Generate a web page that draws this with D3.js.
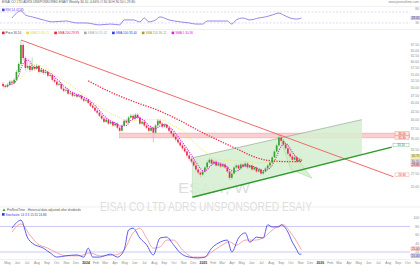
<!DOCTYPE html>
<html>
<head>
<meta charset="utf-8">
<script src="https://cdn.jsdelivr.net/npm/d3@7"></script>
<style>
  body { margin: 0; background: #fff; }
  svg { display: block; font-family: "Liberation Sans", Arial, sans-serif; }
</style>
</head>
<body>
<svg id="chart" width="420" height="265"></svg>
<script>
// weekly bars, first bar week and right end of the time axis
const firstWeek = '2023-04-17'
const lastDay = '2026-10-08'
const monthNames = ['Jan', 'Feb', 'Mar', 'Apr', 'May', 'Jun', 'Jul', 'Aug', 'Sep', 'Oct', 'Nov', 'Dec']

// [open, high, low, close]
const candles = [
  [51.5, 52.2, 50.3, 50.8], [50.8, 51.4, 49.9, 50.5], [50.5, 51.8, 50.1, 51.2], [51.2, 52.9, 50.9, 52.3],
  [52.3, 53.0, 51.4, 51.9], [51.9, 53.6, 51.5, 53.0], [53.0, 56.8, 52.6, 56.0], [56.0, 60.1, 55.5, 59.2],
  [59.2, 70.0, 58.6, 67.6], [67.6, 68.5, 60.5, 61.7], [61.7, 62.4, 56.5, 57.6], [57.6, 60.2, 56.9, 58.4],
  [58.4, 59.8, 55.9, 56.8], [56.8, 62.0, 56.2, 58.0], [58.0, 58.9, 56.5, 57.2], [57.2, 59.3, 56.7, 58.4],
  [58.4, 58.9, 55.3, 56.0], [56.0, 57.6, 55.4, 56.8], [56.8, 57.3, 54.9, 55.6], [55.6, 56.9, 55.0, 56.0],
  [56.0, 56.5, 53.8, 54.5], [54.5, 55.6, 53.9, 54.8], [54.8, 55.2, 52.4, 53.0], [53.0, 53.6, 51.7, 52.3],
  [52.3, 52.8, 50.6, 51.2], [51.2, 52.3, 50.7, 51.5], [51.5, 51.9, 49.3, 49.8], [49.8, 50.3, 48.5, 49.1],
  [49.1, 50.2, 48.6, 49.4], [49.4, 49.8, 47.6, 48.1], [48.1, 49.0, 47.7, 48.4], [48.4, 48.8, 46.9, 47.4],
  [47.4, 48.3, 46.9, 47.7], [47.7, 48.0, 46.6, 47.1], [47.1, 48.0, 46.7, 47.4], [47.4, 47.8, 45.9, 46.4],
  [46.4, 46.9, 45.3, 45.8], [45.8, 46.7, 45.4, 46.1], [46.1, 46.4, 44.7, 45.1], [45.1, 45.5, 43.8, 44.2],
  [44.2, 44.6, 43.1, 43.6], [43.6, 44.0, 42.3, 42.7], [42.7, 43.2, 41.7, 42.1], [42.1, 42.5, 40.8, 41.2],
  [41.2, 41.7, 40.0, 40.4], [40.4, 40.9, 39.1, 39.5], [39.5, 40.6, 39.2, 40.1], [40.1, 40.4, 38.6, 39.0],
  [39.0, 39.9, 38.7, 39.5], [39.5, 39.8, 38.1, 38.5], [38.5, 39.4, 38.2, 39.0], [39.0, 39.3, 37.5, 37.9],
  [37.9, 38.2, 36.7, 37.1], [37.1, 38.8, 36.9, 38.5], [38.5, 40.2, 38.2, 39.8], [39.8, 40.3, 39.0, 39.3],
  [39.3, 41.1, 39.0, 40.7], [40.7, 41.8, 40.4, 41.2], [41.2, 41.6, 40.0, 40.4], [40.4, 42.0, 40.1, 41.5],
  [41.5, 41.9, 40.3, 40.7], [40.7, 41.0, 38.7, 39.0], [39.0, 39.9, 38.7, 39.5], [39.5, 39.8, 38.1, 38.5],
  [38.5, 38.9, 37.5, 37.9], [37.9, 38.3, 36.7, 37.1], [37.1, 38.3, 36.8, 37.9], [37.9, 38.2, 34.2, 36.6],
  [36.6, 38.9, 36.3, 38.5], [38.5, 40.3, 38.2, 39.8], [39.8, 40.2, 38.6, 39.0], [39.0, 39.4, 37.8, 38.2],
  [38.2, 39.1, 37.9, 38.7], [38.7, 39.0, 37.5, 37.9], [37.9, 38.3, 36.7, 37.1], [37.1, 37.5, 36.0, 36.4],
  [36.4, 36.9, 35.2, 35.6], [35.6, 36.0, 34.5, 34.9], [34.9, 35.3, 33.8, 34.2], [34.2, 34.6, 33.1, 33.5],
  [33.5, 33.9, 32.4, 32.8], [32.8, 33.4, 31.8, 32.1], [32.1, 32.5, 30.8, 31.2], [31.2, 31.6, 30.1, 30.5],
  [30.5, 31.0, 29.5, 29.9], [29.9, 30.3, 28.8, 29.1], [29.1, 29.5, 27.9, 28.3], [28.3, 28.7, 27.3, 27.7],
  [27.7, 28.0, 26.8, 27.3], [27.3, 28.2, 27.0, 27.9], [27.9, 29.0, 27.6, 28.7], [28.7, 30.1, 28.4, 29.7],
  [29.7, 30.8, 29.4, 30.3], [30.3, 30.6, 29.2, 29.5], [29.5, 30.3, 29.2, 29.9], [29.9, 30.2, 28.8, 29.1],
  [29.1, 29.9, 28.9, 29.5], [29.5, 29.8, 28.6, 28.9], [28.9, 29.7, 28.7, 29.3], [29.3, 29.6, 28.4, 28.7],
  [28.7, 29.0, 27.6, 27.9], [27.9, 28.2, 26.3, 26.7], [26.7, 27.8, 26.4, 27.5], [27.5, 29.0, 27.3, 28.7],
  [28.7, 29.5, 28.4, 29.1], [29.1, 29.4, 28.2, 28.5], [28.5, 29.7, 28.3, 29.3], [29.3, 29.6, 28.6, 28.9],
  [28.9, 29.9, 28.7, 29.5], [29.5, 29.8, 28.4, 28.7], [28.7, 29.4, 28.5, 29.1], [29.1, 29.3, 28.0, 28.3],
  [28.3, 29.0, 28.1, 28.7], [28.7, 28.9, 27.6, 27.9], [27.9, 28.6, 27.7, 28.3], [28.3, 28.5, 27.2, 27.5],
  [27.5, 28.2, 27.3, 27.9], [27.9, 28.8, 27.7, 28.5], [28.5, 29.4, 28.3, 29.1], [29.1, 30.0, 28.9, 29.7],
  [29.7, 31.2, 29.5, 30.8], [30.8, 32.5, 30.6, 32.1], [32.1, 33.9, 31.9, 33.5], [33.5, 36.0, 33.3, 35.4],
  [35.4, 36.3, 34.3, 34.6], [34.6, 35.0, 33.4, 33.7], [33.7, 34.1, 32.5, 32.8], [32.8, 33.2, 31.3, 31.6],
  [31.6, 32.0, 30.7, 31.0], [31.0, 31.4, 30.0, 30.3], [30.3, 31.2, 30.1, 30.8], [30.8, 31.1, 29.6, 29.9],
  [29.9, 30.6, 29.7, 30.3], [30.3, 30.5, 29.8, 30.1]
]

// moving averages: [week, price]
const smaLong = [[38, 52.6], [48, 48.6], [61, 44.8], [68, 43.1], [79, 39.8], [88, 36.9], [96, 34.7],
  [105, 32.5], [112, 30.9], [119, 30.1], [127, 29.9], [133, 29.9]]
const smaMid = [[0, 50.0], [4, 51.5], [8, 53.7], [11, 56.8], [13, 58.8], [17, 58.4], [21, 56.4], [25, 53.7],
  [30, 51.2], [34, 48.8], [40, 45.4], [45, 43.0], [50, 41.3], [56, 39.8], [63, 40.1], [70, 40.1], [76, 38.4],
  [81, 36.7], [86, 33.7], [91, 31.7], [96, 30.3], [105, 30.1], [114, 29.7], [121, 29.7], [128, 30.3], [133, 30.7]]
const smaShortLength = 5

// drawn objects: [week, price]
const downTrend = [[8, 70.0], [174, 26.9]]
const upTrend = [[84.4, 23.3], [173.3, 33.1]]
const channelTop = [[84.4, 30.7], [160, 40.1]]
const channelBottomRight = [160, 31.4]
const resistanceZone = [52, 36.5, 35.3]
const wedge = [[122.7, 36.3], [137.8, 26.6], [128.4, 28.3]]

// upper indicator and stochastic: [week, value]
const rsi = [[4, 48], [8, 74], [10, 59], [13, 52], [18, 41], [22, 34], [28, 37], [33, 30], [37, 30], [43, 23],
  [48, 26], [52, 23], [54, 41], [58, 41], [61, 34], [63, 48], [65, 34], [68, 41], [70, 52], [74, 41], [79, 34],
  [83, 30], [86, 26], [89, 26], [91, 37], [98, 37], [100, 37], [102, 26], [104, 41], [107, 48], [110, 41],
  [114, 48], [117, 52], [120, 59], [123, 66], [125, 59], [128, 48], [131, 44], [133, 48]]
const stochK = [[4, 76], [8, 95], [11, 53], [13, 41], [18, 29], [21, 18], [24, 8], [28, 11], [33, 13], [36, 8],
  [38, 29], [40, 8], [43, 8], [48, 15], [51, 8], [54, 25], [56, 72], [58, 76], [61, 53], [64, 37], [67, 13],
  [70, 53], [73, 55], [76, 37], [79, 18], [83, 8], [87, 6], [90, 8], [93, 29], [96, 41], [100, 48], [102, 20],
  [105, 53], [108, 65], [110, 43], [113, 55], [116, 53], [118, 84], [120, 79], [123, 79], [124, 84], [127, 67],
  [129, 43], [131, 25], [132, 15], [133, 15]]
const stochD = [[4, 67], [8, 86], [12, 60], [15, 41], [20, 29], [24, 18], [28, 11], [34, 11], [39, 18], [43, 11],
  [50, 13], [54, 25], [58, 65], [61, 76], [64, 53], [67, 29], [70, 32], [73, 48], [76, 48], [80, 25], [85, 8],
  [90, 8], [93, 20], [97, 34], [101, 44], [104, 36], [108, 48], [112, 48], [116, 53], [119, 67], [122, 79],
  [125, 84], [128, 67], [131, 44], [133, 25]]

const priceTicks = [25, 27.5, 30, 32.5, 35, 37.5, 40, 42.5, 45, 47.5, 50, 52.5, 55, 57.5, 60, 62.5, 65, 67.5]
const rsiTicks = [80, 30]
const stochTicks = [100, 80, 60, 40, 20]

// texts
const legendItems = ['Price 30.10', 'SMA 20 30.71', 'SMA 200 29.93', 'SMA 50 31.02', 'SMA 100 33.40', 'SMA 150 36.12', 'SMA 5 30.36']
const rsiLabel = 'RSI 14  47.95'
const stochLabel = 'Stochastic 14 3 3  15.31  24.86'
const sourceNote = 'ProRealTime - Historical data adjusted after dividends'
const title = 'EISAI CO LTD ADRS UNSPONSORED ESAIY Weekly  30.10  -0.66%  O 30.30  H 30.50  L 29.80'

const svg = d3.select('#chart')
const plotR = 410

const parse = d3.utcParse('%Y-%m-%d')
const start = parse(firstWeek)
const end = parse(lastDay)
const weekDate = w => new Date(+start + w * 7 * 864e5)

const x = d3.scaleUtc().domain([start, end]).range([3, plotR])
const xw = w => x(weekDate(w))
const y = d3.scaleLog().domain([25, 70]).range([187.2, 40])
const yRsi = d3.scaleLinear().domain([0, 100]).range([31.2, 3.7])
const ySto = d3.scaleLinear().domain([0, 100]).range([260.5, 218])

const defs = svg.append('defs')
const clip = (id, y0, y1) => defs.append('clipPath').attr('id', id)
  .append('rect').attr('x', 0).attr('y', y0).attr('width', plotR).attr('height', y1 - y0)
clip('clipTop', 7, 29.5)
clip('clipMain', 30, 207)
clip('clipBot', 207, 259)

// panel frames
svg.append('g').selectAll('line').data([6.5, 29.5, 207, 259.5]).join('line')
  .attr('x1', 0).attr('x2', 420).attr('y1', d => d).attr('y2', d => d)
  .attr('stroke', '#e6e6e6').attr('stroke-width', 0.6)

// watermark
svg.append('text').attr('x', 214).attr('y', 193).attr('text-anchor', 'middle')
  .attr('font-size', 14).attr('fill', '#dedede').attr('textLength', 72).attr('lengthAdjust', 'spacingAndGlyphs')
  .text('ESAIY, W')
svg.append('text').attr('x', 206).attr('y', 211).attr('text-anchor', 'middle')
  .attr('font-size', 13).attr('fill', '#dedede').attr('textLength', 212).attr('lengthAdjust', 'spacingAndGlyphs')
  .text('EISAI CO LTD ADRS UNSPONSORED ESAIY')

// top indicator
const topG = svg.append('g').attr('clip-path', 'url(#clipTop)')
topG.selectAll('line').data([70, 30]).join('line')
  .attr('x1', 0).attr('x2', plotR).attr('y1', d => yRsi(d)).attr('y2', d => yRsi(d))
  .attr('stroke', '#c9c2f2').attr('stroke-width', 0.6).attr('stroke-dasharray', '2,1.5')
topG.append('path').datum(rsi)
  .attr('d', d3.line().x(d => xw(d[0])).y(d => yRsi(d[1])).curve(d3.curveMonotoneX))
  .attr('fill', 'none').attr('stroke', '#8b78e6').attr('stroke-width', 0.9)

// main panel
const main = svg.append('g').attr('clip-path', 'url(#clipMain)')

// resistance zone
main.append('rect').attr('x', xw(resistanceZone[0])).attr('width', plotR - xw(resistanceZone[0]))
  .attr('y', y(resistanceZone[1])).attr('height', y(resistanceZone[2]) - y(resistanceZone[1]))
  .attr('fill', '#fbcfcf').attr('stroke', '#f29a9a').attr('stroke-width', 0.5)

// channel
const chPts = [channelTop[0], channelTop[1], channelBottomRight, upTrend[0]]
main.append('path').attr('d', 'M' + chPts.map(p => [xw(p[0]), y(p[1])].join(',')).join('L') + 'Z')
  .attr('fill', '#d5efd0').attr('fill-opacity', 0.85).attr('stroke', 'none')
main.append('line').attr('x1', xw(channelTop[0][0])).attr('y1', y(channelTop[0][1]))
  .attr('x2', xw(channelTop[1][0])).attr('y2', y(channelTop[1][1]))
  .attr('stroke', '#9aa89a').attr('stroke-width', 0.7)
main.append('line').attr('x1', xw(channelTop[0][0])).attr('y1', y(channelTop[0][1]))
  .attr('x2', xw(upTrend[0][0])).attr('y2', y(upTrend[0][1]))
  .attr('stroke', '#b9d9b4').attr('stroke-width', 0.5)

// wedge
main.append('path').attr('d', 'M' + wedge.map(p => [xw(p[0]), y(p[1])].join(',')).join('L') + 'Z')
  .attr('fill', '#cdeec8').attr('fill-opacity', 0.8).attr('stroke', '#9fd898').attr('stroke-width', 0.5)

// moving averages
const maLine = d3.line().x(d => xw(d[0])).y(d => y(d[1])).curve(d3.curveMonotoneX)
main.append('path').datum(smaMid).attr('d', maLine)
  .attr('fill', 'none').attr('stroke', '#e6e36a').attr('stroke-width', 0.9).attr('stroke-dasharray', '1,1.2')
main.append('path').datum(smaLong).attr('d', maLine)
  .attr('fill', 'none').attr('stroke', '#ea2a45').attr('stroke-width', 1.3).attr('stroke-dasharray', '1.3,1.3')

// candles
const up = d => d[3] >= d[0]
main.append('g').selectAll('line').data(candles).join('line')
  .attr('x1', (d, i) => xw(i)).attr('x2', (d, i) => xw(i))
  .attr('y1', d => y(d[1])).attr('y2', d => y(d[2]))
  .attr('stroke', d => up(d) ? '#a6d69f' : '#f3aab6').attr('stroke-width', 0.8)
main.append('g').selectAll('rect').data(candles).join('rect')
  .attr('x', (d, i) => xw(i) - 0.85).attr('width', 1.7)
  .attr('y', d => y(Math.max(d[0], d[3])))
  .attr('height', d => Math.max(0.6, Math.abs(y(d[0]) - y(d[3]))))
  .attr('fill', d => up(d) ? '#3aa231' : '#e6304f')

// short SMA of closes
const closes = candles.map(d => d[3])
const smaShort = closes.map((c, i) => {
  const w = closes.slice(Math.max(0, i - smaShortLength + 1), i + 1)
  return [i, d3.mean(w)]
})
main.append('path').datum(smaShort).attr('d', d3.line().x(d => xw(d[0])).y(d => y(d[1])))
  .attr('fill', 'none').attr('stroke', '#e21ee0').attr('stroke-width', 1.1).attr('stroke-dasharray', '1.1,1.1')

// trend lines
const seg = (g, pts, color, w) => g.append('line')
  .attr('x1', xw(pts[0][0])).attr('y1', y(pts[0][1]))
  .attr('x2', xw(pts[1][0])).attr('y2', y(pts[1][1]))
  .attr('stroke', color).attr('stroke-width', w)
seg(main, downTrend, '#f06a6a', 1)
seg(main, upTrend, '#2e9a2e', 1.4)

// stochastic
const bot = svg.append('g').attr('clip-path', 'url(#clipBot)')
bot.selectAll('line').data([80, 20]).join('line')
  .attr('x1', 0).attr('x2', plotR).attr('y1', d => ySto(d)).attr('y2', d => ySto(d))
  .attr('stroke', '#b3b3f0').attr('stroke-width', 0.7)
const stoLine = d3.line().x(d => xw(d[0])).y(d => ySto(d[1])).curve(d3.curveMonotoneX)
bot.append('path').datum(stochD).attr('d', stoLine)
  .attr('fill', 'none').attr('stroke', '#f29191').attr('stroke-width', 0.8)
bot.append('path').datum(stochK).attr('d', stoLine)
  .attr('fill', 'none').attr('stroke', '#4b4be6').attr('stroke-width', 0.9)

// right axes
const fmt = d3.format('.2f')
const axisText = (vals, sc, f) => svg.append('g').selectAll('text').data(vals).join('text')
  .attr('x', 419).attr('y', d => sc(d) + 1.2).attr('text-anchor', 'end')
  .attr('font-size', 3.3).attr('fill', '#8a8a8a').text(f)
axisText(priceTicks, y, fmt)
axisText(rsiTicks, yRsi, d => d)
axisText(stochTicks, ySto, d => d)

// value tags on the right edge
const tag = (xr, yv, w, txt, fill, stroke, color) => {
  const g = svg.append('g')
  g.append('rect').attr('x', xr - w).attr('y', yv - 1.8).attr('width', w).attr('height', 3.6)
    .attr('fill', fill).attr('stroke', stroke).attr('stroke-width', 0.4)
  g.append('text').attr('x', xr - w / 2).attr('y', yv + 1.1).attr('text-anchor', 'middle')
    .attr('font-size', 3).attr('fill', color).text(txt)
}
const last = candles[candles.length - 1][3]
tag(409, y(resistanceZone[1]) + 0.4, 14, fmt(resistanceZone[1]), '#fde3e3', '#f08a8a', '#d83030')
tag(409, y(resistanceZone[2]) - 0.4, 14, fmt(resistanceZone[2]), '#fde3e3', '#f08a8a', '#d83030')
tag(409, y(upTrend[1][1]) - 2, 16, fmt(upTrend[1][1]), '#ffffff', '#6ab46a', '#2e8a2e')
tag(409, y(downTrend[1][1]) - 2, 14, fmt(downTrend[1][1]), '#ffffff', '#f08a8a', '#d83030')
tag(420, y(smaMid[smaMid.length - 1][1]) - 1.5, 9, fmt(smaMid[smaMid.length - 1][1]), '#f6f08a', '#d8d060', '#555')
tag(420, y(last) + 0.8, 9, fmt(last), '#e9e4fb', '#b8b0ee', '#444')
tag(420, y(smaLong[smaLong.length - 1][1]) + 3.2, 9, fmt(smaLong[smaLong.length - 1][1]), '#f9c6d0', '#ee8aa0', '#444')
tag(420, yRsi(rsi[rsi.length - 1][1]), 9, rsi[rsi.length - 1][1].toFixed(2), '#ded8fb', '#a898ee', '#444')
tag(420, ySto(stochD[stochD.length - 1][1]) - 1.2, 9, stochD[stochD.length - 1][1].toFixed(2), '#fde0e0', '#f09090', '#444')
tag(420, ySto(stochK[stochK.length - 1][1]) + 1.6, 9, stochK[stochK.length - 1][1].toFixed(2), '#dadafb', '#7070e8', '#444')

// x axis
const months = d3.utcMonth.range(d3.utcMonth.ceil(start), d3.utcMonth.offset(end, 1))
svg.append('g').selectAll('text').data(months).join('text')
  .attr('x', d => x(d)).attr('y', 263.5).attr('text-anchor', 'middle')
  .attr('font-size', 3.4).attr('fill', d => d.getUTCMonth() === 0 ? '#333' : '#8a8a8a')
  .attr('font-weight', d => d.getUTCMonth() === 0 ? 'bold' : 'normal')
  .text(d => d.getUTCMonth() === 0 ? d.getUTCFullYear() : monthNames[d.getUTCMonth()])

// headers and legends
svg.append('text').attr('x', 2).attr('y', 3.3).attr('font-size', 3.2).attr('fill', '#555').text(title)
svg.append('text').attr('x', 419).attr('y', 3.3).attr('text-anchor', 'end')
  .attr('font-size', 3.2).attr('fill', '#888').text('www.prorealtime.com')

const labelBox = (x0, yb, color, txt, tc) => {
  svg.append('rect').attr('x', x0).attr('y', yb - 2.4).attr('width', 2.6).attr('height', 2.6).attr('fill', color)
  return svg.append('text').attr('x', x0 + 3.6).attr('y', yb).attr('font-size', 3.1).attr('fill', tc).text(txt)
}
labelBox(2, 11, '#5848e0', rsiLabel, '#5848e0')

const legendColors = ['#d02a3c', '#e2d84a', '#e8203c', '#a8a8a8', '#2a3ae8', '#a8a020', '#e020d8']
let lx = 2
legendItems.forEach((t, i) => {
  const tx = labelBox(lx, 34, legendColors[i], t, i === 0 ? '#444' : legendColors[i])
  lx += 3.6 + tx.node().getComputedTextLength() + 5
})

svg.append('text').attr('x', 7).attr('y', 211).attr('font-size', 3.1).attr('fill', '#555').text(sourceNote)
svg.append('path').attr('d', 'M2.5,211 l1.5,-2.5 l1.5,2.5 z').attr('fill', '#3a9a3a')
labelBox(2, 215.5, '#3a3ae0', stochLabel, '#3a3ae0')
</script>
</body>
</html>
